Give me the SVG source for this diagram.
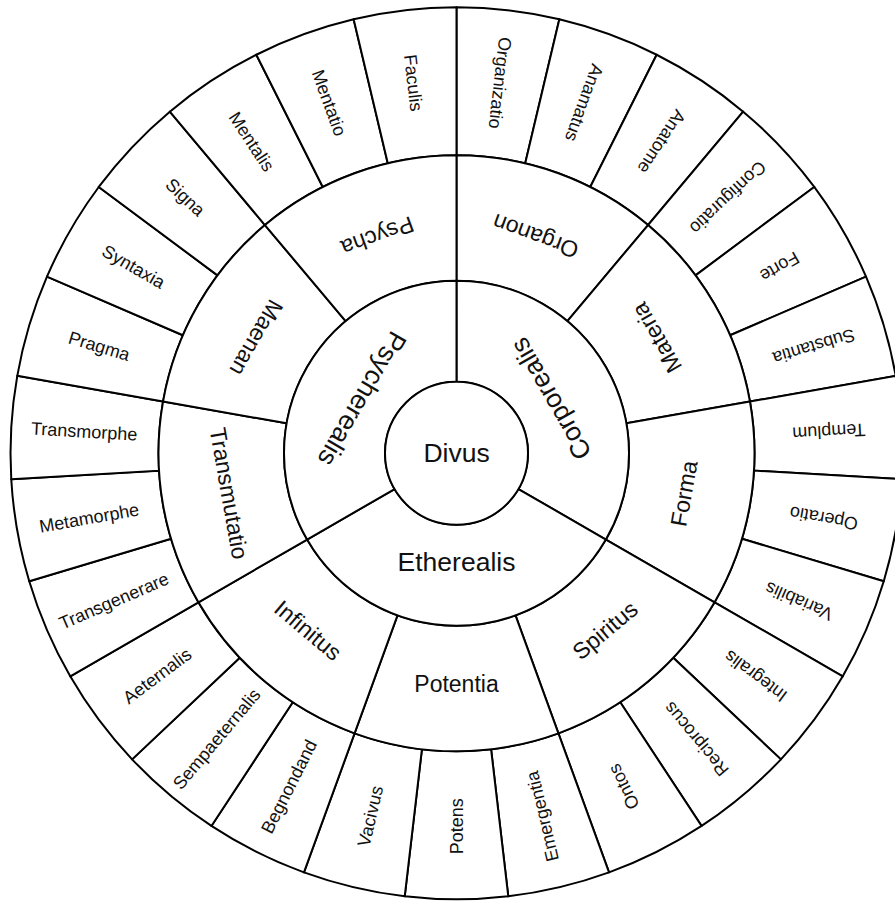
<svg xmlns="http://www.w3.org/2000/svg" width="895" height="903" viewBox="0 0 895 903">
<style>
.seg{fill:#fff;stroke:#000;stroke-width:2;stroke-linejoin:round}
text{font-family:"Liberation Sans",Arial,Helvetica,sans-serif;fill:#111;text-anchor:middle;dominant-baseline:central}
.l0{font-size:26.5px}
.l1{font-size:23px}
.l2{font-size:18px}
</style>
<defs>
<path id="leaf" class="seg" d="M446,0 A446,446 0 0 1 433.98,102.85 L289.97,68.72 A298,298 0 0 0 298,0 Z"/>
<path id="mid" class="seg" d="M298,0 A298,298 0 0 1 228.28,191.55 L132.14,110.88 A172.5,172.5 0 0 0 172.5,0 Z"/>
<path id="inner" class="seg" d="M172.5,0 A172.5,172.5 0 0 1 -86.25,149.39 L-35.75,61.92 A71.5,71.5 0 0 0 71.5,0 Z"/>
</defs>
<rect width="895" height="903" fill="#fff"/>
<g transform="translate(456.5,453.3)">
<g id="leaves">
<g id="organizatio" transform="rotate(-90)"><use href="#leaf"/><text class="l2" transform="rotate(6.667) translate(373,0) rotate(180)">Organizatio</text></g>
<g id="anamatus" transform="rotate(-76.667)"><use href="#leaf"/><text class="l2" transform="rotate(6.667) translate(373,0) rotate(180)">Anamatus</text></g>
<g id="anatome" transform="rotate(-63.333)"><use href="#leaf"/><text class="l2" transform="rotate(6.667) translate(373,0) rotate(180)">Anatome</text></g>
<g id="configuratio" transform="rotate(-50)"><use href="#leaf"/><text class="l2" transform="rotate(6.667) translate(373,0) rotate(180)">Configuratio</text></g>
<g id="forte" transform="rotate(-36.667)"><use href="#leaf"/><text class="l2" transform="rotate(6.667) translate(373,0) rotate(180)">Forte</text></g>
<g id="substantia" transform="rotate(-23.333)"><use href="#leaf"/><text class="l2" transform="rotate(6.667) translate(373,0) rotate(180)">Substantia</text></g>
<g id="templum" transform="rotate(-10)"><use href="#leaf"/><text class="l2" transform="rotate(6.667) translate(373,0) rotate(180)">Templum</text></g>
<g id="operatio" transform="rotate(3.333)"><use href="#leaf"/><text class="l2" transform="rotate(6.667) translate(373,0) rotate(180)">Operatio</text></g>
<g id="variabilis" transform="rotate(16.667)"><use href="#leaf"/><text class="l2" transform="rotate(6.667) translate(373,0) rotate(180)">Variabilis</text></g>
<g id="integralis" transform="rotate(30)"><use href="#leaf"/><text class="l2" transform="rotate(6.667) translate(373,0) rotate(180)">Integralis</text></g>
<g id="reciprocus" transform="rotate(43.333)"><use href="#leaf"/><text class="l2" transform="rotate(6.667) translate(373,0) rotate(180)">Reciprocus</text></g>
<g id="ontos" transform="rotate(56.667)"><use href="#leaf"/><text class="l2" transform="rotate(6.667) translate(373,0) rotate(180)">Ontos</text></g>
<g id="emergentia" transform="rotate(70)"><use href="#leaf"/><text class="l2" transform="rotate(6.667) translate(373,0) rotate(180)">Emergentia</text></g>
<g id="potens" transform="rotate(83.333)"><use href="#leaf"/><text class="l2" transform="rotate(6.667) translate(373,0) rotate(180)">Potens</text></g>
<g id="vacivus" transform="rotate(96.667)"><use href="#leaf"/><text class="l2" transform="rotate(6.667) translate(373,0) rotate(180)">Vacivus</text></g>
<g id="begnondand" transform="rotate(110)"><use href="#leaf"/><text class="l2" transform="rotate(6.667) translate(373,0) rotate(180)">Begnondand</text></g>
<g id="sempaeternalis" transform="rotate(123.333)"><use href="#leaf"/><text class="l2" transform="rotate(6.667) translate(373,0) rotate(180)">Sempaeternalis</text></g>
<g id="aeternalis" transform="rotate(136.667)"><use href="#leaf"/><text class="l2" transform="rotate(6.667) translate(373,0) rotate(180)">Aeternalis</text></g>
<g id="transgenerare" transform="rotate(150)"><use href="#leaf"/><text class="l2" transform="rotate(6.667) translate(373,0) rotate(180)">Transgenerare</text></g>
<g id="metamorphe" transform="rotate(163.333)"><use href="#leaf"/><text class="l2" transform="rotate(6.667) translate(373,0) rotate(180)">Metamorphe</text></g>
<g id="transmorphe" transform="rotate(176.667)"><use href="#leaf"/><text class="l2" transform="rotate(6.667) translate(373,0) rotate(180)">Transmorphe</text></g>
<g id="pragma" transform="rotate(190)"><use href="#leaf"/><text class="l2" transform="rotate(6.667) translate(373,0) rotate(180)">Pragma</text></g>
<g id="syntaxia" transform="rotate(203.333)"><use href="#leaf"/><text class="l2" transform="rotate(6.667) translate(373,0) rotate(180)">Syntaxia</text></g>
<g id="signa" transform="rotate(216.667)"><use href="#leaf"/><text class="l2" transform="rotate(6.667) translate(373,0) rotate(180)">Signa</text></g>
<g id="mentalis" transform="rotate(230)"><use href="#leaf"/><text class="l2" transform="rotate(6.667) translate(373,0) rotate(180)">Mentalis</text></g>
<g id="mentatio" transform="rotate(243.333)"><use href="#leaf"/><text class="l2" transform="rotate(6.667) translate(373,0) rotate(180)">Mentatio</text></g>
<g id="faculis" transform="rotate(256.667)"><use href="#leaf"/><text class="l2" transform="rotate(6.667) translate(373,0) rotate(180)">Faculis</text></g>
</g>
<g id="middle">
<g id="organon" transform="rotate(-90)"><use href="#mid"/><text class="l1" transform="rotate(20) translate(231,0) rotate(-90)">Organon</text></g>
<g id="materia" transform="rotate(-50)"><use href="#mid"/><text class="l1" transform="rotate(20) translate(231,0) rotate(-90)">Materia</text></g>
<g id="forma" transform="rotate(-10)"><use href="#mid"/><text class="l1" transform="rotate(20) translate(231,0) rotate(-90)">Forma</text></g>
<g id="spiritus" transform="rotate(30)"><use href="#mid"/><text class="l1" transform="rotate(20) translate(231,0) rotate(-90)">Spiritus</text></g>
<g id="potentia" transform="rotate(70)"><use href="#mid"/><text class="l1" transform="rotate(20) translate(231,0) rotate(-90)">Potentia</text></g>
<g id="infinitus" transform="rotate(110)"><use href="#mid"/><text class="l1" transform="rotate(20) translate(231,0) rotate(-90)">Infinitus</text></g>
<g id="transmutatio" transform="rotate(150)"><use href="#mid"/><text class="l1" transform="rotate(20) translate(231,0) rotate(-90)">Transmutatio</text></g>
<g id="maenan" transform="rotate(190)"><use href="#mid"/><text class="l1" transform="rotate(20) translate(231,0) rotate(-90)">Maenan</text></g>
<g id="psycha" transform="rotate(230)"><use href="#mid"/><text class="l1" transform="rotate(20) translate(231,0) rotate(-90)">Psycha</text></g>
</g>
<g id="inner-ring">
<g id="corporealis" transform="rotate(-90)"><use href="#inner"/><text class="l0" transform="rotate(60) translate(109,0) rotate(-90)">Corporealis</text></g>
<g id="etherealis" transform="rotate(30)"><use href="#inner"/><text class="l0" transform="rotate(60) translate(109,0) rotate(-90)">Etherealis</text></g>
<g id="psycherealis" transform="rotate(150)"><use href="#inner"/><text class="l0" transform="rotate(60) translate(109,0) rotate(-90)">Psycherealis</text></g>
</g>
<g id="divus"><circle class="seg" r="71.5"/><text class="l0">Divus</text></g>
</g>
</svg>
